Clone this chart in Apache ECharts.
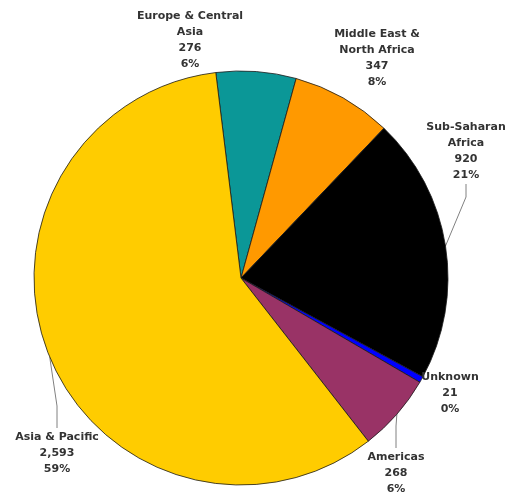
<!DOCTYPE html>
<html>
<head>
<meta charset="utf-8">
<script src="https://cdn.jsdelivr.net/npm/echarts@6/dist/echarts.min.js"></script>
<style>
  html, body { margin: 0; padding: 0; background: #fff; }
  #chart { width: 511px; height: 497px; }
</style>
</head>
<body>
<div id="chart"></div>
<script>
// Regions, clockwise from the top
const regions = ['Europe & Central\nAsia', 'Middle East &\nNorth Africa', 'Sub-Saharan\nAfrica', 'Unknown', 'Americas', 'Asia & Pacific'];
const counts = [276, 347, 920, 21, 268, 2593];
const sliceColors = ['#0B9797', '#FF9900', '#000000', '#0000FF', '#993366', '#FFCC00'];

// Where each label block sits, and which labels get a leader line
const labelSpots = [[190, 40], [377, 58], [466, 151], [450, 393], [396, 473], [57, 453]];
const leaderShown = [false, false, true, false, true, true];

const chart = echarts.init(document.getElementById('chart'), null, { renderer: 'canvas' });

const data = regions.map((name, i) => ({
  name: name,
  value: counts[i],
  itemStyle: { color: sliceColors[i] },
  labelLine: { show: leaderShown[i] }
}));

chart.setOption({
  animation: false,
  series: [{
    type: 'pie',
    center: [241, 278],
    radius: 207,
    startAngle: 97,
    clockwise: true,
    avoidLabelOverlap: false,
    data: data,
    itemStyle: { borderColor: '#1a1a1a', borderWidth: 0.8 },
    label: {
      show: true,
      position: 'outside',
      overflow: 'none',
      color: '#333',
      fontFamily: 'DejaVu Sans, sans-serif',
      fontWeight: 'bold',
      fontSize: 11,
      lineHeight: 16,
      align: 'center',
      formatter: p => p.name + '\n' + echarts.format.addCommas(p.value) + '\n' + Math.round(p.percent) + '%'
    },
    labelLine: {
      show: true,
      lineStyle: { color: '#808080', width: 1 }
    },
    labelLayout: function (params) {
      const i = params.dataIndex;
      const [x, y] = labelSpots[i];
      const out = { x: x, y: y, align: 'center', verticalAlign: 'middle', hideOverlap: false };
      if (leaderShown[i] && params.labelLinePoints) {
        const anchor = params.labelLinePoints[0];
        const h = params.labelRect.height;
        const above = y < anchor[1];
        const endY = above ? y + h / 2 + 1 : y - h / 2 - 1;
        const bendY = above ? endY + 13 : endY - 22;
        out.labelLinePoints = [anchor, [x, bendY], [x, endY]];
      }
      return out;
    }
  }]
});
</script>
</body>
</html>
